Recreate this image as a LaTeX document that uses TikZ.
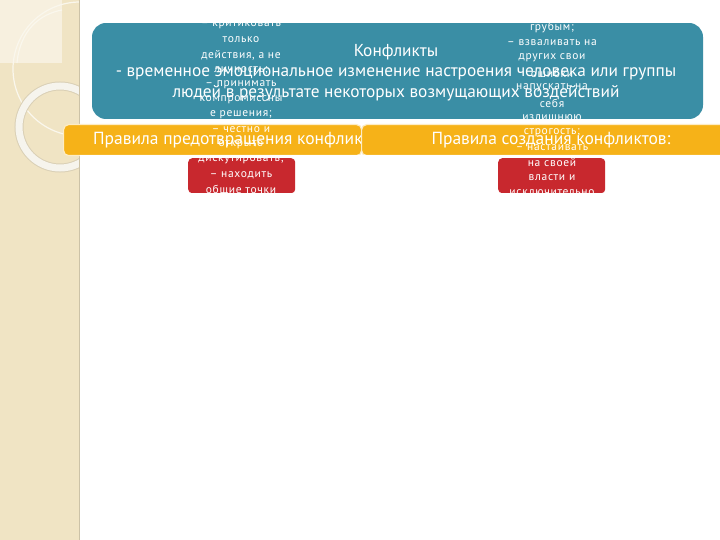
\documentclass[tikz,border=0pt]{standalone}
\usepackage{fontspec}
\setmainfont{PT Sans}
\usetikzlibrary{positioning}
\definecolor{sand}{RGB}{240,228,196}
\definecolor{tealbox}{RGB}{58,142,165}
\definecolor{amber}{RGB}{246,178,24}
\definecolor{brick}{RGB}{200,40,46}
\tikzset{
		banner/.style={fill=tealbox, rounded corners=14pt, inner sep=0pt},
		rulebar/.style={fill=amber, draw=amber!25!white, line width=1.2pt, rounded corners=5pt, inner sep=0pt, anchor=north west},
		tipbox/.style={fill=brick, rounded corners=4pt, inner sep=0pt, anchor=north west},
		head/.style={text=white, inner sep=0pt, font=\fontsize{17.3}{20}\selectfont},
		over/.style={text=white, inner sep=0pt, font=\fontsize{11.5}{15}\selectfont\addfontfeatures{LetterSpace=6}}
	}

\begin{document}
\begin{tikzpicture}[x=1pt, y=-1pt] % 1 unit = 1 px of the slide, y runs downwards
		\useasboundingbox (0,0) rectangle (720,540);
		\fill[white] (0,0) rectangle (720,540);
		% left strip with its ornament
		\fill[sand] (0,0) rectangle (79,540);
		\begin{scope}
			\clip (0,0) rectangle (79,540);
			\fill[sand!55!white] (0,0) rectangle (62,63);
			\draw[white!70!sand, line width=1.2pt] (80,69) circle (67);
			\draw[white!70!sand, line width=1.2pt] (17,63) .. controls (20,30) and (40,14) .. (62,10);
			\draw[sand!80!gray, line width=9pt] (60,127) circle (41);
			\draw[white!80!sand!95!gray, line width=7pt] (60,127) circle (41);
		\end{scope}
		\draw[sand!85!black] (79,0) -- (79,540);

		% title box
		\node[banner, minimum width=611pt, minimum height=96pt] (title) at (397.5,71) {};
		\node[head] (name) at (396,52) {Конфликты};
		\node[head] (def1) at (396,74) {- временное эмоциональное изменение настроения человека или группы};
		\node[head] (def2) at (396,93) {людей в результате некоторых возмущающих воздействий};

		% rule bars
		\node[rulebar, minimum width=298pt, minimum height=31pt] (keep) at (63,124) {};
		\node[head, anchor=west, font=\fontsize{17.5}{20}\selectfont] (keeptxt) at (93,140) {Правила предотвращения конфликтов:};
		\node[rulebar, minimum width=380pt, minimum height=31pt] (make) at (361,124) {};
		\node[head, font=\fontsize{17.5}{20}\selectfont] (maketxt) at (551,140) {Правила создания конфликтов:};

		% red boxes
		\node[tipbox, minimum width=107pt, minimum height=35pt] (keepbox) at (188,158) {};
		\node[tipbox, minimum width=107pt, minimum height=35pt] (makebox) at (498,158) {};

		% overflowing lists
		\foreach \t [count=\i] in {– критиковать, только, {действия, а не}, личность;, – принимать, компромиссны, е решения;, – честно и, открыто, дискутировать;, – находить, общие точки}{
			\node[over] (k\i) at (241,10+15*\i) {\t};
		}
		\foreach \t [count=\i] in {грубым;, – взваливать на, других свои, ошибки, напускать на, себя, излишнюю, строгость;, – настаивать, на своей, власти и, исключительно}{
			\node[over] (m\i) at (552,13+15*\i) {\t};
		}
		% white page over the overflow above and between the boxes
		\fill[white] (80,0) rectangle (720,23);
		\fill[white] (80,155) rectangle (720,158);
		\fill[white] (80,193) rectangle (720,210);
		\fill[white] (720,0) rectangle (760,540);
	\end{tikzpicture}
\end{document}
